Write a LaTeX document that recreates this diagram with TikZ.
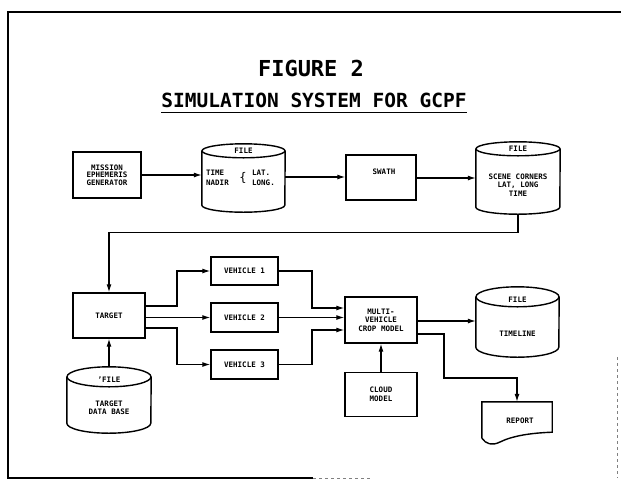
\documentclass[tikz,border=0pt]{standalone}
\usepackage{fontspec}
\setmainfont{DejaVu Sans Mono}
\usetikzlibrary{arrows.meta}
\tikzset{
  lbl/.style={font=\bfseries\fontsize{7.5}{8.5}\selectfont, align=center, inner sep=0pt},
  box/.style={draw, line width=1.4pt, inner sep=0pt, font=\bfseries\fontsize{7.5}{8.5}\selectfont, align=center},
  ghost/.style={draw=none, inner sep=0pt},
  ln/.style={line width=1.2pt},
  arr/.style={ln, -{Latex[length=8pt,width=5pt]}},
  cylline/.style={line width=1.4pt},
}
\newcommand\cylshape[3]{% node name, half width, ry
  \draw[cylline] ([yshift=-#3pt]#1.north west) -- ([yshift=#3pt]#1.south west)
     arc[start angle=180, end angle=360, x radius=#2pt, y radius=#3pt]
     -- ([yshift=-#3pt]#1.north east);
  \draw[cylline] ([yshift=-#3pt]#1.north) ellipse [x radius=#2pt, y radius=#3pt];
}
\begin{document}
\begin{tikzpicture}[x=1pt,y=-1pt]
\useasboundingbox (0,0) rectangle (621,483);
% frame
\draw[line width=1.6pt] (621,12) -- (8,12) -- (8,478) -- (313,478);
\draw[line width=0.7pt, gray, dashed] (313,478) -- (372,478);
\draw[line width=0.7pt, gray, dashed] (617,357) -- (617,478);
% titles
\node[inner sep=0pt, font=\bfseries\fontsize{22}{22}\selectfont] (t1) at (311,68) {FIGURE 2};
\node[inner sep=0pt, font=\bfseries\fontsize{19.5}{20}\selectfont] (t2) at (314,100) {SIMULATION SYSTEM FOR GCPF};
\draw[line width=1.5pt] ([yshift=-5pt]t2.south west) -- ([yshift=-5pt]t2.south east);
% top row
\node[box, minimum width=68pt, minimum height=46pt, font=\bfseries\fontsize{7.5}{7.5}\selectfont] (mis) at (107,175) {MISSION\\EPHEMERIS\\GENERATOR};
\node[ghost, minimum width=83pt, minimum height=68pt] (c1) at (243.5,178) {};
\cylshape{c1}{41.5}{7}
\node[lbl] (c1f) at (243.5,151) {FILE};
\node[lbl, align=left, anchor=west, font=\bfseries\fontsize{7.5}{9.5}\selectfont] (c1a) at (206,178) {TIME\\NADIR};
\node[inner sep=0pt, font=\fontsize{12}{12}\selectfont] (c1b) at (243,178) {\{};
\node[lbl, align=left, anchor=west, font=\bfseries\fontsize{7.5}{9.5}\selectfont] (c1c) at (252,178) {LAT.\\LONG.};
\node[box, minimum width=70pt, minimum height=45pt] (swath) at (381,177.5) {};
\node[lbl] (swl) at (384,172) {SWATH};
\node[ghost, minimum width=84pt, minimum height=72pt] (c2) at (518,178) {};
\cylshape{c2}{42}{7}
\node[lbl] (c2f) at (518,149) {FILE};
\node[lbl] (c2t) at (518,185) {SCENE CORNERS\\LAT, LONG\\TIME};
% target
\node[box, minimum width=72pt, minimum height=45pt] (target) at (109,315.5) {TARGET};
\node[ghost, minimum width=84pt, minimum height=66pt] (tdb) at (109,400) {};
\cylshape{tdb}{42}{10}
\node[lbl] (tdbf) at (109,380) {'FILE};
\node[lbl] (tdbt) at (109,408) {TARGET\\DATA BASE};
% vehicles
\node[box, minimum width=67pt, minimum height=28pt] (v1) at (244.5,271) {VEHICLE 1};
\node[box, minimum width=67pt, minimum height=29pt] (v2) at (244.5,317.5) {VEHICLE 2};
\node[box, minimum width=67pt, minimum height=29pt] (v3) at (244.5,364.5) {VEHICLE 3};
% multi, cloud
\node[box, minimum width=72pt, minimum height=46pt] (multi) at (381,320) {MULTI-\\VEHICLE\\CROP MODEL};
\node[box, minimum width=72pt, minimum height=44pt] (cloud) at (381,394.5) {CLOUD\\MODEL};
% timeline
\node[ghost, minimum width=83pt, minimum height=70pt] (tl) at (517.5,322) {};
\cylshape{tl}{41.5}{10}
\node[lbl] (tlf) at (517.5,300) {FILE};
\node[lbl] (tlt) at (517.5,334) {TIMELINE};
% report
\node[ghost, minimum width=70pt, minimum height=36pt] (report) at (517,420) {};
\draw[cylline] (report.south west) -- (report.north west) -- (report.north east) -- ([yshift=6pt]report.south east)
  .. controls (530,433) and (512,436) .. (500,442) .. controls (492,446) and (486,444) .. (report.south west);
\node[lbl] (repl) at (520,421) {REPORT};
% connectors
\draw[arr] (mis.east) -- (c1.west |- mis.east);
\draw[arr] (c1.east |- 0,177) -- (swath.west |- 0,177);
\draw[arr] (swath.east |- 0,178) -- (c2.west |- 0,178);
\draw[arr] (c2.south) -- ++(0,18) -| (target.north);
\draw[arr] (tdb.north) -- (target.south);
\draw[arr] (target.east |- 0,306) -- (177,306) |- (v1.west);
\draw[arr] (target.east |- v2.west) -- (v2.west);
\draw[arr] (target.east |- 0,328) -- (177,328) |- (v3.west);
\draw[arr] (v1.east) -| (312,308) -- (multi.west |- 0,308);
\draw[arr] (v2.east) -- (multi.west |- v2.east);
\draw[arr] (v3.east) -| (312,330) -- (multi.west |- 0,330);
\draw[arr] (multi.east |- 0,321) -- (tl.west |- 0,321);
\draw[arr] (multi.east |- 0,334) -- (444,334) -- (444,378) -| (report.north);
\draw[arr] (cloud.north) -- (multi.south);
\end{tikzpicture}
\end{document}
